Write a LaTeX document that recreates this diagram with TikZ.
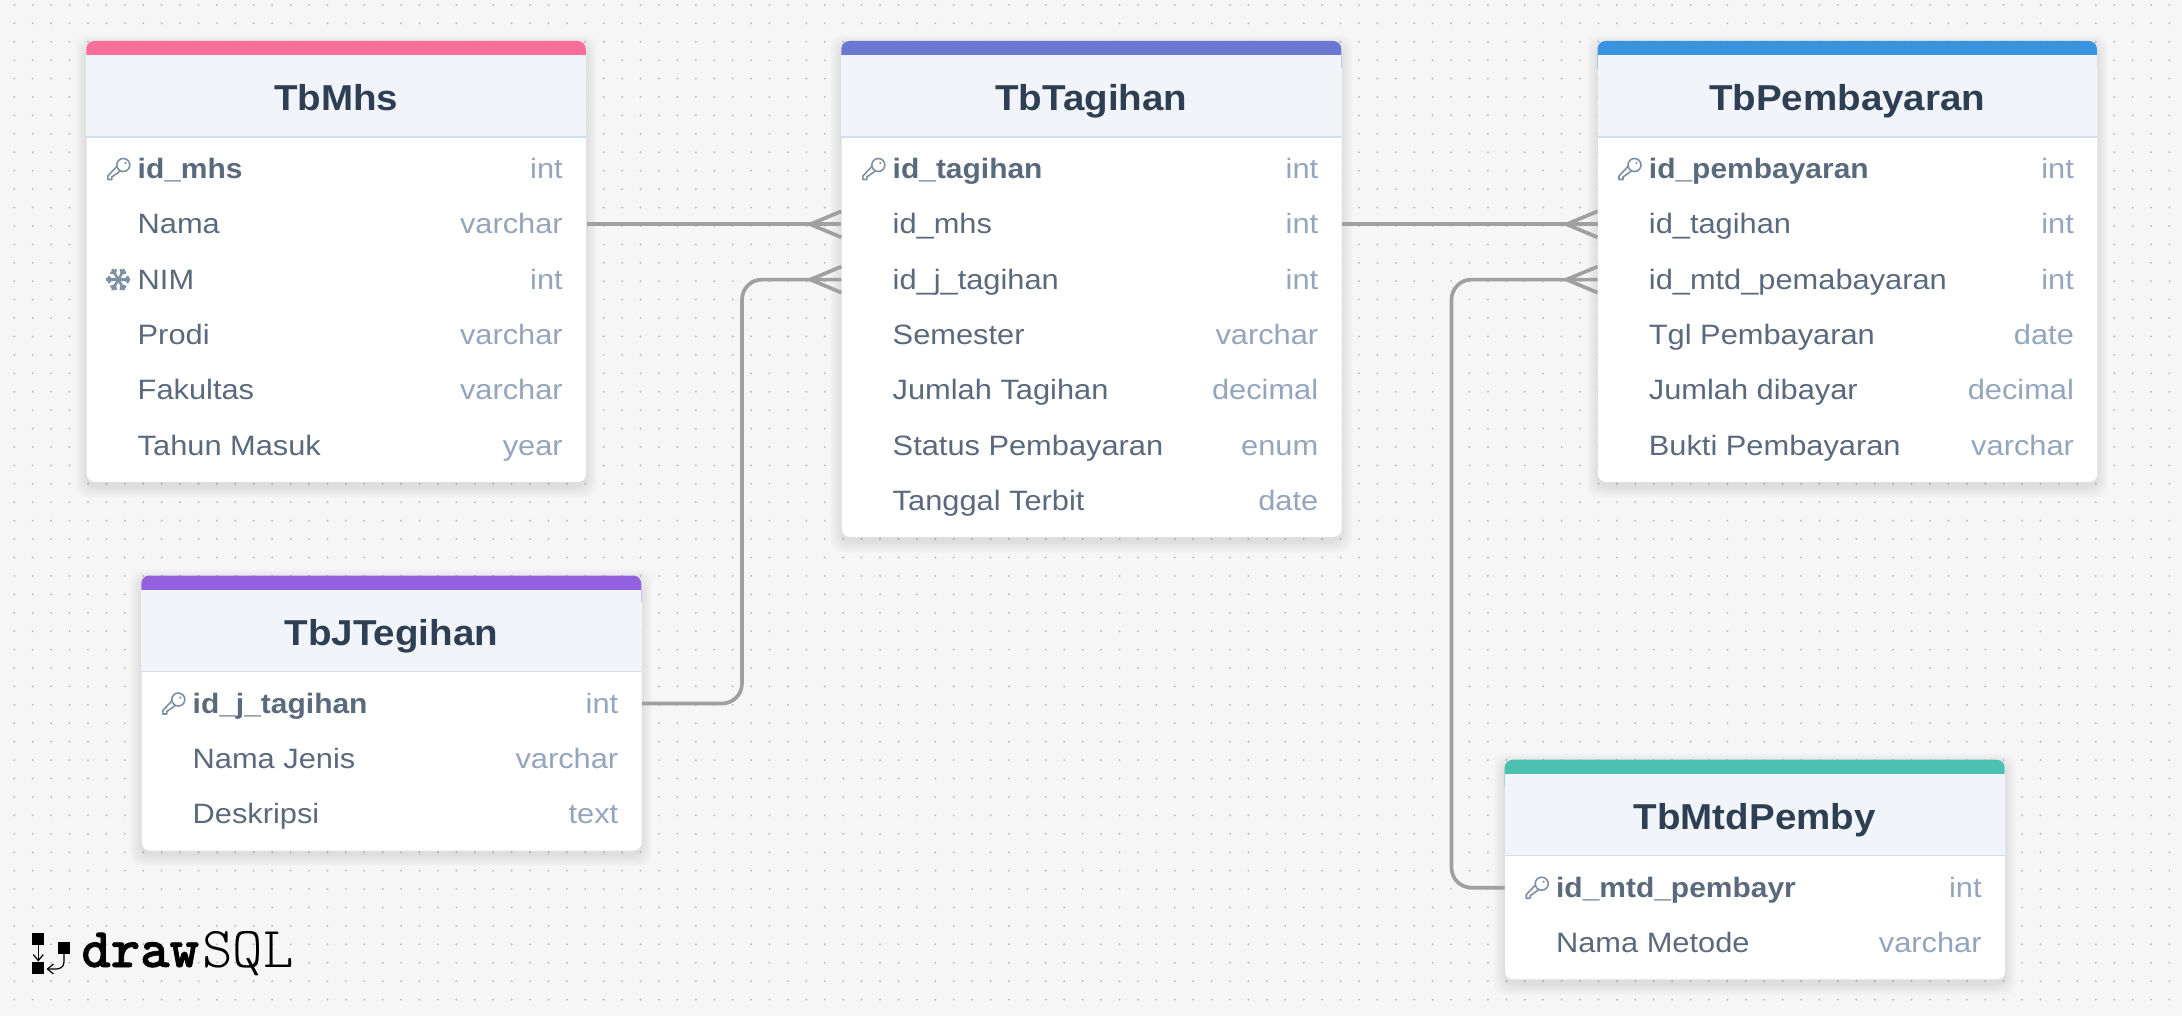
\documentclass[tikz,border=0pt]{standalone}
\usepackage{fontspec}
\setmainfont[FakeStretch=1.10,BoldFeatures={FakeStretch=1.07}]{Liberation Sans}
\newfontfamily\logodraw[FakeBold=1.2]{lmmonolt10-bold.otf}
\usetikzlibrary{calc,arrows.meta}

\tikzset{
  tbframe/.style={fill=white,rounded corners=4pt,inner sep=0pt,anchor=north west},
  tbrow/.style={inner sep=0pt,minimum height=27.65pt,anchor=west},
  tbtitle/.style={inner sep=0pt,anchor=base,text=kTitle,font=\fontsize{18}{20}\selectfont\bfseries},
  tbfield/.style={inner sep=0pt,anchor=base west,text=kField,font=\fontsize{14}{16}\selectfont},
  tbtype/.style={inner sep=0pt,anchor=base east,text=kType,font=\fontsize{14}{16}\selectfont},
  rowkey/.style={font=\fontsize{14}{16}\selectfont\bfseries},
  rowflake/.style={},
  rownone/.style={},
  rel/.style={color=kLine,line width=1.85pt},
  logoline/.style={line width=0.6pt,-{Straight Barb[length=3pt,width=5pt]}},
  pics/rowkey/.style={code={
    \draw[kIcon,line width=0.8pt] (5,-4) circle (6.5);
    \fill[kIcon] (7,-6) circle (1.2);
    \draw[kIcon,line width=0.8pt,line join=round] (-1.5,-2.5) -- (-10.5,7) -- (-10.5,10.5) -- (-6.5,10.5) -- (-6.5,8) -- (2,2);
  }},
  pics/rowflake/.style={code={
    \foreach \a in {0,60,...,300} {
      \draw[kIcon,line width=1.3pt] (0,0) -- (\a:12);
      \draw[kIcon,line width=1.2pt] (\a:7) -- ++(\a+45:4.5);
      \draw[kIcon,line width=1.2pt] (\a:7) -- ++(\a-45:4.5);
    }
  }},
  pics/rownone/.style={code={}},
}

% name, left, top, width, height, colour, title, rows
\newcommand{\dbtable}[8]{
  \foreach \b in {11,9,7,5,3,1}
    \fill[black,opacity=0.016,rounded corners=6pt] (#2-\b,#3-\b+5) rectangle (#2+#4+\b,#3+#5+\b+5);
  \node[tbframe,minimum width=#4*0.5pt,minimum height=#5*0.5pt] (#1) at (#2,#3) {};
  \fill[#6,rounded corners=4pt] (#1.north west) rectangle +(#4,34);
  \fill[kHead] ($(#1.north west)+(0,14)$) rectangle +(#4,82);
  \draw[kRule,line width=0.6pt] ($(#1.north west)+(0,96)$) -- +(#4,0);
  \node[tbtitle] (#1-title) at ($(#1.north west)+(#4/2,69.7)$) {#7};
  \foreach \f/\t/\s [count=\i] in {#8} {
    \node[tbrow,minimum width=#4*0.5pt] (#1-\i) at ($(#1.north west)+(0,128+55.3*\i-55.3)$) {};
    \node[tbfield,\s] (#1-\i-field) at ($(#1-\i.west)+(51,9.5)$) {\f};
    \node[tbtype] (#1-\i-type) at ($(#1-\i.east)+(-23.5,9.5)$) {\t};
    \pic at ($(#1-\i.west)+(32,0)$) {\s};
  }
}

\begin{document}
\begin{tikzpicture}[x=0.5pt,y=-0.5pt]
  \definecolor{kPaper}{HTML}{F6F6F6}
  \definecolor{kDot}{HTML}{C0C0C0}
  \definecolor{kHead}{HTML}{F1F4F9}
  \definecolor{kRule}{HTML}{D5DFEC}
  \definecolor{kTitle}{HTML}{2E3E53}
  \definecolor{kField}{HTML}{5A6A7C}
  \definecolor{kType}{HTML}{94A5BD}
  \definecolor{kIcon}{HTML}{7F90A3}
  \definecolor{kLine}{HTML}{A0A0A0}
  \definecolor{kPink}{HTML}{F96F9B}
  \definecolor{kIndigo}{HTML}{6B78D1}
  \definecolor{kBlue}{HTML}{3A93E0}
  \definecolor{kPurple}{HTML}{9361DE}
  \definecolor{kTeal}{HTML}{4DC0B1}

  \useasboundingbox (0,0) rectangle (2182,1016);
  \fill[kPaper] (0,0) rectangle (2182,1016);
  \foreach \j in {0,...,55}
  {
    \fill[kDot] \foreach \i in {0,...,118} { (14.3+18.42*\i,4.9+18.42*\j) circle (1.1) };
  }

  % tables
  \dbtable{mhs}{86.3}{41}{499.5}{440.5}{kPink}{TbMhs}{id\_mhs/int/rowkey,Nama/varchar/rownone,NIM/int/rowflake,Prodi/varchar/rownone,Fakultas/varchar/rownone,Tahun Masuk/year/rownone}
  \dbtable{tag}{841.3}{41}{500}{495.5}{kIndigo}{TbTagihan}{id\_tagihan/int/rowkey,id\_mhs/int/rownone,id\_j\_tagihan/int/rownone,Semester/varchar/rownone,Jumlah Tagihan/decimal/rownone,Status Pembayaran/enum/rownone,Tanggal Terbit/date/rownone}
  \dbtable{pem}{1597.5}{41}{499.5}{440.5}{kBlue}{TbPembayaran}{id\_pembayaran/int/rowkey,id\_tagihan/int/rownone,id\_mtd\_pemabayaran/int/rownone,Tgl Pembayaran/date/rownone,Jumlah dibayar/decimal/rownone,Bukti Pembayaran/varchar/rownone}
  \dbtable{jen}{141.3}{575.5}{500}{274.6}{kPurple}{TbJTegihan}{id\_j\_tagihan/int/rowkey,Nama Jenis/varchar/rownone,Deskripsi/text/rownone}
  \dbtable{mtd}{1504.7}{759.7}{500}{219.3}{kTeal}{TbMtdPemby}{id\_mtd\_pembayr/int/rowkey,Nama Metode/varchar/rownone}

  % relations
  \coordinate (bendA) at (742,490);
  \coordinate (bendB) at (1451.5,580);
  \draw[rel] (mhs-2.east) -- (tag-2.west);
  \draw[rel] (tag-2.east) -- (pem-2.west);
  \draw[rel,rounded corners=10pt] (jen-1.east) -| (bendA) |- (tag-3.west);
  \draw[rel,rounded corners=10pt] (mtd-1.west) -| (bendB) |- (pem-3.west);
  \foreach \r in {tag-2,tag-3,pem-2,pem-3}
  {
    \draw[rel] ($(\r.west)+(0,-13)$) -- ($(\r.west)+(-31,0)$) -- ($(\r.west)+(0,13)$);
  }

  % logo
  \fill[black] (32.3,933.3) rectangle (44.3,945.3);
  \fill[black] (32.3,962.3) rectangle (44.3,974.3);
  \fill[black] (57.7,942) rectangle (70,954);
  \coordinate (logoA) at (38.3,945.3);
  \coordinate (logoB) at (38.3,961.5);
  \coordinate (logoC) at (64,954);
  \coordinate (logoD) at (46.5,969);
  \draw[logoline] (logoA) -- (logoB);
  \draw[logoline] (logoC) -- (64,962) .. controls (64,967) and (60,969) .. (56,969) -- (logoD);
  \node[inner sep=0pt,anchor=base west,font=\logodraw\fontsize{28}{29}\selectfont] (logoDraw) at (81,967) {draw};
  \node[inner sep=0pt,anchor=base west,font=\ttfamily\fontsize{29}{30}\fontseries{l}\selectfont] (logoSql) at (202,967) {SQL};
\end{tikzpicture}
\end{document}
